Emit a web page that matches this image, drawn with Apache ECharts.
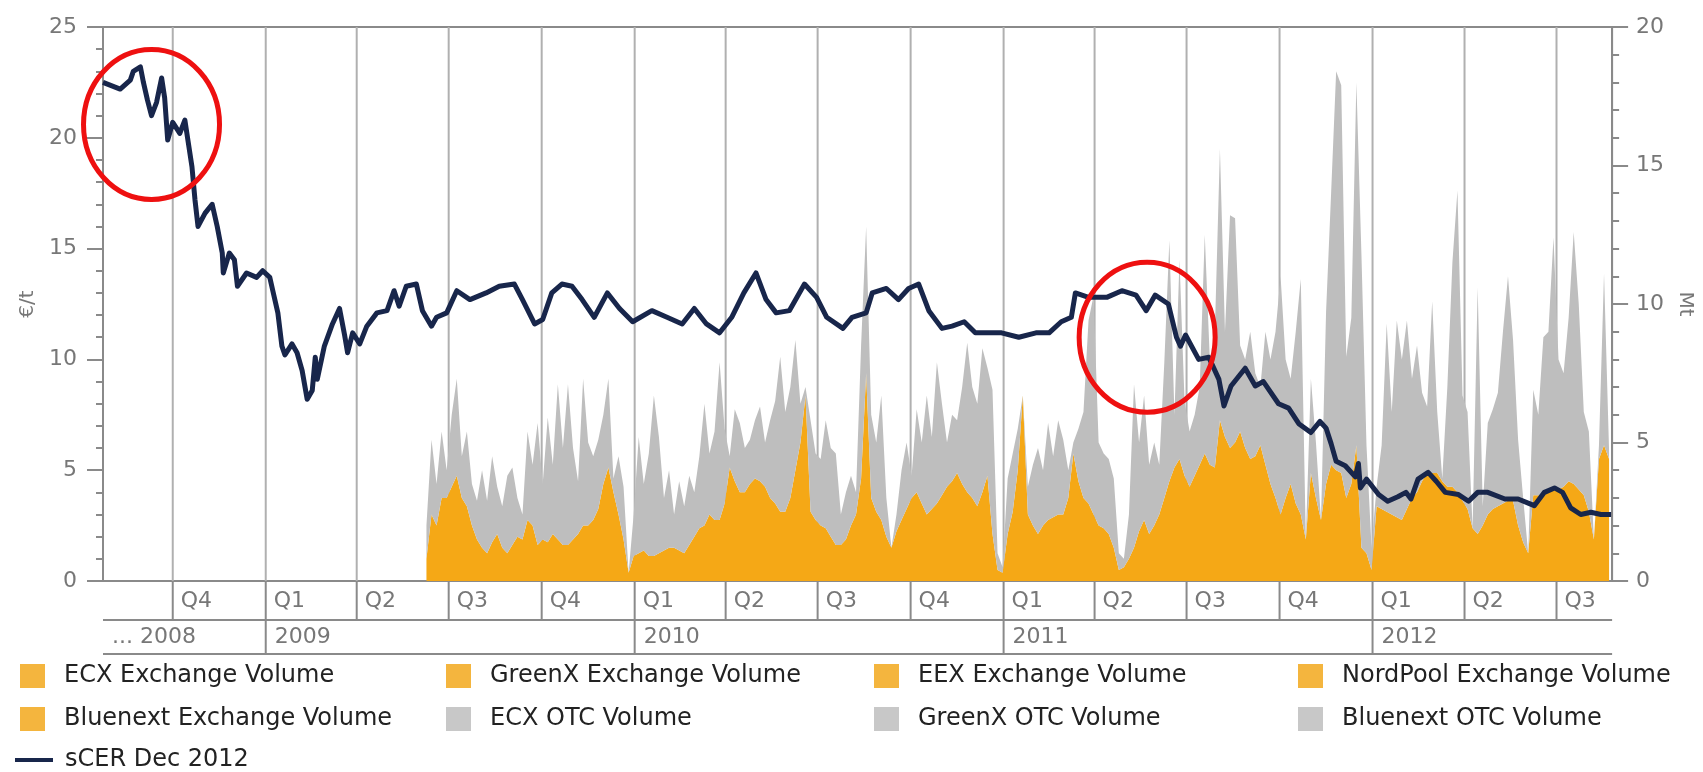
<!DOCTYPE html>
<html>
<head>
<meta charset="utf-8">
<script src="https://cdn.jsdelivr.net/npm/echarts@6/dist/echarts.min.js"></script>
<style>
html,body{margin:0;padding:0;background:#fff;}
#chart{width:1703px;height:772px;}
</style>
</head>
<body>
<div id="chart"></div>
<script>
// ---------- DATA ----------
const axisStartDate = '2008-07-24';
const axisEndDate = '2012-08-25';

// quarter boundaries and labels (bottom axis, first row)
const quarterStarts = ['2008-10-01','2009-01-01','2009-04-01','2009-07-01','2009-10-01','2010-01-01','2010-04-01','2010-07-01','2010-10-01','2011-01-01','2011-04-01','2011-07-01','2011-10-01','2012-01-01','2012-04-01','2012-07-01'];
const quarterLabels = ['Q4','Q1','Q2','Q3','Q4','Q1','Q2','Q3','Q4','Q1','Q2','Q3','Q4','Q1','Q2','Q3'];

// year labels (bottom axis, second row)
const yearStarts = ['2008-07-24','2009-01-01','2010-01-01','2011-01-01','2012-01-01'];
const yearLabels = ['... 2008','2009','2010','2011','2012'];

// sCER Dec 2012 price (EUR/t); days counted from axisStartDate
const priceDays = [0,17,27,30,37,40,44,48,53,58,61,64,69,76,81,84,88,91,94,101,108,113,118,119,125,130,133,142,152,158,165,168,173,177,180,187,192,197,202,207,210,212,219,227,234,239,242,247,254,261,271,281,288,293,300,310,316,325,330,340,350,363,379,392,407,415,427,435,444,454,464,474,486,499,511,524,543,558,573,585,597,610,622,634,646,656,666,679,694,706,716,732,741,755,761,775,787,797,807,817,830,840,852,863,876,889,906,923,936,948,958,962,975,993,1008,1022,1032,1041,1054,1062,1066,1071,1084,1094,1104,1109,1116,1130,1140,1148,1163,1173,1183,1195,1204,1210,1215,1220,1229,1239,1242,1244,1250,1262,1271,1281,1289,1294,1301,1311,1319,1328,1341,1351,1360,1370,1387,1400,1416,1426,1436,1444,1452,1462,1472,1482,1492];
const priceValues = [22.5,22.2,22.6,23.0,23.2,22.5,21.7,21.0,21.6,22.7,21.8,19.9,20.7,20.2,20.8,19.9,18.7,17.2,16.0,16.6,17.0,16.0,14.8,13.9,14.8,14.5,13.3,13.9,13.7,14.0,13.7,13.1,12.1,10.6,10.2,10.7,10.3,9.5,8.2,8.6,10.1,9.1,10.6,11.6,12.3,11.1,10.3,11.2,10.7,11.5,12.1,12.2,13.1,12.4,13.3,13.4,12.2,11.5,11.9,12.1,13.1,12.7,13.0,13.3,13.4,12.7,11.6,11.8,13.0,13.4,13.3,12.7,11.9,13.0,12.3,11.7,12.2,11.9,11.6,12.3,11.6,11.2,11.9,13.0,13.9,12.7,12.1,12.2,13.4,12.8,11.9,11.4,11.9,12.1,13.0,13.2,12.7,13.2,13.4,12.2,11.4,11.5,11.7,11.2,11.2,11.2,11.0,11.2,11.2,11.7,11.9,13.0,12.8,12.8,13.1,12.9,12.2,12.9,12.5,11.0,10.6,11.1,10.0,10.1,9.1,7.9,8.8,9.6,8.8,9.0,8.0,7.8,7.1,6.7,7.2,6.9,6.2,5.4,5.2,4.7,5.3,4.2,4.6,3.9,3.6,3.8,4.0,3.7,4.6,4.9,4.5,4.0,3.9,3.6,4.0,4.0,3.7,3.7,3.4,4.0,4.2,4.0,3.3,3.0,3.1,3.0,3.0];

// volumes (Mt), one sample every volumeStepDays days from volumeFirstDay
const volumeFirstDay = 320;
const volumeStepDays = 5;
const ecxExchangeVolume = [0.8,2.4,2.0,3.0,3.0,3.4,3.8,3.0,2.7,2.0,1.5,1.2,1.0,1.4,1.7,1.2,1.0,1.3,1.6,1.5,2.2,2.0,1.3,1.5,1.4,1.7,1.5,1.3,1.3,1.5,1.7,2.0,2.0,2.2,2.6,3.5,4.1,3.2,2.4,1.5,0.3,0.9,1.0,1.1,0.9,0.9,1.0,1.1,1.2,1.2,1.1,1.0,1.3,1.6,1.9,2.0,2.4,2.2,2.2,2.8,4.1,3.6,3.2,3.2,3.5,3.7,3.6,3.4,3.0,2.8,2.5,2.5,3.0,4.0,5.0,6.7,2.5,2.2,2.0,1.9,1.6,1.3,1.3,1.5,2.0,2.4,3.7,7.5,3.0,2.5,2.2,1.6,1.2,1.8,2.2,2.6,3.0,3.2,2.8,2.4,2.6,2.8,3.1,3.4,3.6,3.9,3.5,3.2,3.0,2.7,3.2,3.8,1.7,0.4,0.3,1.7,2.5,4.0,6.7,2.4,2.0,1.7,2.0,2.2,2.3,2.4,2.4,3.0,4.6,3.6,3.0,2.8,2.4,2.0,1.9,1.7,1.2,0.4,0.5,0.8,1.2,1.8,2.2,1.7,2.0,2.4,3.0,3.6,4.1,4.4,3.8,3.4,3.8,4.2,4.6,4.2,4.1,5.8,5.2,4.8,5.0,5.4,4.8,4.4,4.5,4.9,4.2,3.5,3.0,2.4,3.0,3.5,2.8,2.4,1.5,3.9,3.0,2.2,3.5,4.2,4.0,3.9,3.0,3.5,4.9,1.2,1.0,0.4,2.7,2.6,2.5,2.4,2.3,2.2,2.6,3.0,3.2,3.6,3.9,3.9,3.9,3.6,3.4,3.4,3.2,2.9,2.6,1.9,1.7,2.0,2.4,2.6,2.7,2.8,2.9,2.9,2.0,1.4,1.0,3.1,3.1,3.1,3.2,3.3,3.3,3.4,3.6,3.5,3.3,3.1,2.5,1.5,4.4,4.9,4.4];
const ecxOtcVolume = [1.2,2.7,1.5,2.4,1.0,2.6,3.5,1.5,2.7,1.5,1.4,2.8,1.9,3.1,1.7,1.5,2.8,2.8,1.4,0.9,3.2,2.2,4.4,2.0,4.5,2.5,5.6,3.5,5.8,3.3,1.9,5.3,3.0,2.3,2.5,2.5,3.2,0.5,2.1,1.9,0.0,1.5,4.2,2.4,3.7,5.8,4.2,1.9,2.8,1.2,2.5,1.7,2.5,1.6,2.6,4.4,2.2,3.2,5.7,2.7,0.4,2.6,2.5,1.6,1.6,2.1,2.7,1.6,2.8,3.7,5.6,3.6,4.0,4.7,1.4,0.3,3.3,2.4,2.4,3.9,3.2,3.3,1.1,1.7,1.8,0.8,4.8,5.3,3.0,2.5,4.5,1.4,0.0,0.6,1.8,2.4,0.8,3.0,2.2,4.3,2.6,5.1,3.3,1.6,2.4,1.9,3.5,5.4,4.0,3.7,5.2,3.9,5.2,0.6,0.2,2.0,2.1,1.5,0.0,1.0,2.2,3.1,2.0,3.5,2.2,3.4,2.7,1.0,0.4,1.9,3.1,6.6,7.9,3.0,2.7,2.7,2.5,0.6,0.3,1.6,5.9,3.2,4.5,2.5,3.0,1.8,4.9,8.7,1.9,7.2,2.7,2.0,2.2,2.8,7.9,3.8,4.9,9.8,3.8,8.4,8.1,3.1,3.2,4.6,3.0,2.1,4.8,4.5,6.0,8.6,5.0,3.8,6.2,8.5,0.0,3.4,2.0,0.0,6.2,9.8,14.4,14.0,5.1,6.0,13.1,10.6,3.9,0.8,0.7,2.3,6.8,3.7,7.1,5.8,6.8,4.3,5.3,3.2,2.4,6.2,2.2,0.1,3.6,8.1,10.9,3.8,3.5,0.0,8.9,0.7,3.3,3.6,4.1,6.2,8.1,5.8,3.1,1.6,0.0,3.8,2.9,5.7,5.8,9.1,4.7,4.1,5.9,9.1,6.7,3.0,2.9,0.0,0.5,6.2,0.3];
// other venues: not separable in the picture (same colour, stacked)
const greenxExchangeVolume = [];
const eexExchangeVolume = [];
const nordpoolExchangeVolume = [];
const bluenextExchangeVolume = [];
const greenxOtcVolume = [];
const bluenextOtcVolume = [];

// red highlight ellipses drawn on the picture (centre: day from axisStartDate, EUR/t)
const highlightDays = [48, 1033];
const highlightValues = [20.6, 11.0];

// ---------- HELPERS ----------
function parseDate(s){ const p = s.split('-').map(Number); return new Date(p[0], p[1]-1, p[2]).getTime(); }
function dayToTime(d){ const p = axisStartDate.split('-').map(Number); return new Date(p[0], p[1]-1, p[2] + d).getTime(); }

const priceData = priceDays.map((d,i)=>[dayToTime(d), priceValues[i]]);
const volTime = i => dayToTime(volumeFirstDay + i*volumeStepDays);
const toVol = arr => arr.map((v,i)=>[volTime(i), v]);

const ORANGE = '#F5A816';
const ORANGE_LEG = '#F4B53E';
const GREY = '#BEBEBE';
const GREY_LEG = '#C8C8C8';
const LINE = '#18264B';
const AXIS = '#8a8a8a';
const GRID = '#b0b0b0';
const TXT = '#777';
const FONT = '"DejaVu Sans", Verdana, sans-serif';
const ROW1 = 39, ROW2 = 34;

function areaSeries(name, arr, color){
  return {name, type:'line', yAxisIndex:1, stack:'vol', data:toVol(arr), symbol:'none', showSymbol:false,
    lineStyle:{width:0, color}, itemStyle:{color}, areaStyle:{color, opacity:1}, z:2, silent:true};
}

const chart = echarts.init(document.getElementById('chart'), null, {renderer:'canvas'});
const legendText = {fontFamily:FONT, fontSize:24, color:'#222', padding:[0,0,0,14]};
function legendCol(left, items){
  return {left, top:659, orient:'vertical', icon:'rect', itemWidth:25, itemHeight:24, itemGap:19,
    selectedMode:false, textStyle:legendText, data:items};
}
const oL = n => ({name:n, itemStyle:{color:ORANGE_LEG}});
const gL = n => ({name:n, itemStyle:{color:GREY_LEG}});

chart.setOption({
  animation:false,
  backgroundColor:'#fff',
  grid:{left:103, right:89, top:27, bottom:191, show:true, borderColor:AXIS, borderWidth:2, backgroundColor:'transparent'},
  legend:[
    legendCol(15, [oL('ECX Exchange Volume'), oL('Bluenext Exchange Volume')]),
    legendCol(441, [oL('GreenX Exchange Volume'), gL('ECX OTC Volume')]),
    legendCol(869, [oL('EEX Exchange Volume'), gL('GreenX OTC Volume')]),
    legendCol(1293, [oL('NordPool Exchange Volume'), gL('Bluenext OTC Volume')]),
    {left:10, top:743, icon:'rect', itemWidth:38, itemHeight:4, selectedMode:false,
     textStyle:Object.assign({}, legendText, {padding:[0,0,0,7]}),
     data:[{name:'sCER Dec 2012', itemStyle:{color:LINE}}]}
  ],
  xAxis:{type:'time', min:parseDate(axisStartDate), max:parseDate(axisEndDate),
    axisLine:{show:true, lineStyle:{color:AXIS, width:2}}, axisTick:{show:false}, axisLabel:{show:false}, splitLine:{show:false}},
  yAxis:[
    {type:'value', position:'left', min:0, max:25, interval:5, name:'€/t', nameLocation:'middle', nameGap:59, nameRotate:90,
     nameTextStyle:{fontFamily:FONT, fontSize:20, color:TXT},
     axisLine:{show:true, lineStyle:{color:AXIS, width:2}},
     axisTick:{show:true, inside:false, length:16, lineStyle:{color:AXIS, width:2}},
     minorTick:{show:true, splitNumber:5, length:7, lineStyle:{color:AXIS, width:2}},
     axisLabel:{fontFamily:FONT, fontSize:22, color:TXT, margin:26},
     splitLine:{show:false}, minorSplitLine:{show:false}},
    {type:'value', position:'right', min:0, max:20, interval:5, name:'Mt', nameLocation:'middle', nameGap:58, nameRotate:-90,
     nameTextStyle:{fontFamily:FONT, fontSize:20, color:TXT},
     axisLine:{show:true, lineStyle:{color:AXIS, width:2}},
     axisTick:{show:true, inside:false, length:16, lineStyle:{color:AXIS, width:2}},
     minorTick:{show:true, splitNumber:5, length:7, lineStyle:{color:AXIS, width:2}},
     axisLabel:{fontFamily:FONT, fontSize:22, color:TXT, margin:24},
     splitLine:{show:false}, minorSplitLine:{show:false}}
  ],
  series:[
    // quarter grid lines + quarter row
    {type:'custom', name:'_quarters', xAxisIndex:0, yAxisIndex:0, clip:false, silent:true, z:1,
     data:quarterStarts.map(s=>[parseDate(s), 0]),
     renderItem:(params, api)=>{
       const p = api.coord([api.value(0), 0]);
       const top = params.coordSys.y;
       return {type:'group', children:[
         {type:'line', shape:{x1:p[0], y1:top, x2:p[0], y2:p[1]}, style:{stroke:GRID, lineWidth:2}},
         {type:'line', shape:{x1:p[0], y1:p[1], x2:p[0], y2:p[1]+ROW1}, style:{stroke:AXIS, lineWidth:2}},
         {type:'text', style:{text:quarterLabels[params.dataIndex], x:p[0]+8, y:p[1]+ROW1/2+1, verticalAlign:'middle',
           font:'22px ' + FONT, fill:TXT}}
       ]};
     }},
    // year row
    {type:'custom', name:'_years', xAxisIndex:0, yAxisIndex:0, clip:false, silent:true, z:1,
     data:yearStarts.map(s=>[parseDate(s), 0]),
     renderItem:(params, api)=>{
       const p = api.coord([api.value(0), 0]);
       const cs = params.coordSys;
       const ch = [
         {type:'text', style:{text:yearLabels[params.dataIndex], x:p[0]+9, y:p[1]+ROW1+ROW2/2, verticalAlign:'middle',
           font:'22px ' + FONT, fill:TXT}}
       ];
       if (params.dataIndex > 0) {
         ch.push({type:'line', shape:{x1:p[0], y1:p[1]+ROW1, x2:p[0], y2:p[1]+ROW1+ROW2}, style:{stroke:AXIS, lineWidth:2}});
       } else {
         ch.push({type:'line', shape:{x1:cs.x, y1:p[1]+ROW1, x2:cs.x+cs.width, y2:p[1]+ROW1}, style:{stroke:AXIS, lineWidth:2}});
         ch.push({type:'line', shape:{x1:cs.x, y1:p[1]+ROW1+ROW2, x2:cs.x+cs.width, y2:p[1]+ROW1+ROW2}, style:{stroke:AXIS, lineWidth:2}});
       }
       return {type:'group', children:ch};
     }},
    areaSeries('ECX Exchange Volume', ecxExchangeVolume, ORANGE),
    areaSeries('GreenX Exchange Volume', greenxExchangeVolume, ORANGE),
    areaSeries('EEX Exchange Volume', eexExchangeVolume, ORANGE),
    areaSeries('NordPool Exchange Volume', nordpoolExchangeVolume, ORANGE),
    areaSeries('Bluenext Exchange Volume', bluenextExchangeVolume, ORANGE),
    areaSeries('ECX OTC Volume', ecxOtcVolume, GREY),
    areaSeries('GreenX OTC Volume', greenxOtcVolume, GREY),
    areaSeries('Bluenext OTC Volume', bluenextOtcVolume, GREY),
    {name:'sCER Dec 2012', type:'line', yAxisIndex:0, data:priceData, symbol:'none', showSymbol:false,
     lineStyle:{color:LINE, width:5, join:'round'}, itemStyle:{color:LINE}, z:5, silent:true},
    // red highlight ellipses
    {type:'custom', name:'_highlight', xAxisIndex:0, yAxisIndex:0, clip:false, silent:true, z:10,
     data:highlightDays.map((d,i)=>[dayToTime(d), highlightValues[i]]),
     renderItem:(params, api)=>{
       const p = api.coord([api.value(0), api.value(1)]);
       return {type:'ellipse', shape:{cx:p[0], cy:p[1], rx:68, ry:75},
         style:{fill:'none', stroke:'#ee1010', lineWidth:5}};
     }}
  ]
});
</script>
</body>
</html>
